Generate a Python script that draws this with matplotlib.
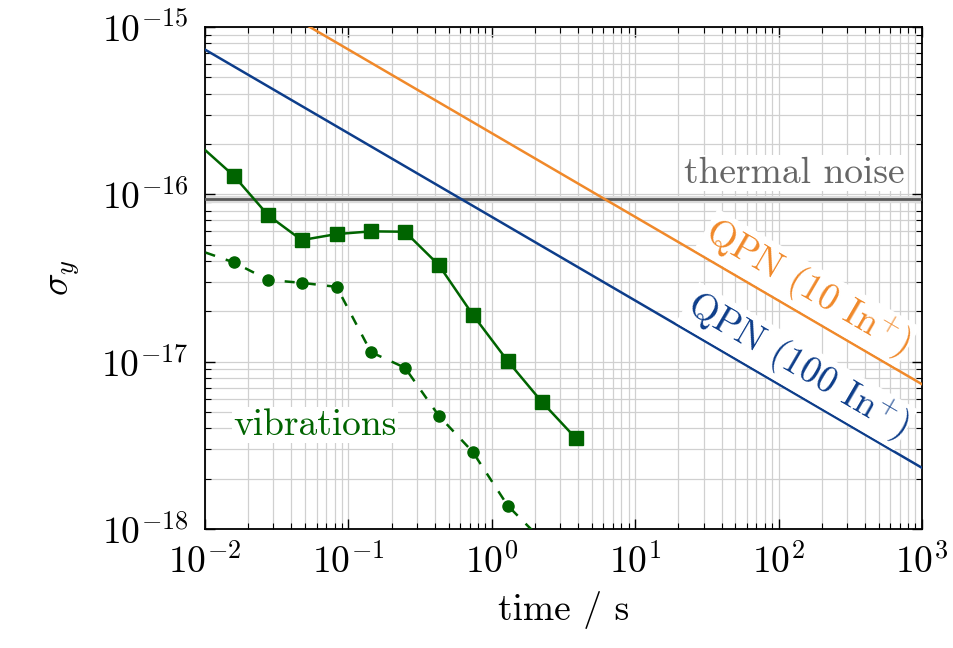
import matplotlib
matplotlib.use("Agg")
import matplotlib.pyplot as plt

plt.rcParams['font.family'] = 'serif'
plt.rcParams['font.serif'] = ['cmr10']
plt.rcParams['mathtext.fontset'] = 'cm'
plt.rcParams['axes.formatter.use_mathtext'] = True

# measured instability (squares) and vibration contribution (circles)
tau_meas = [0.0053, 0.0159, 0.0276, 0.0472, 0.0828, 0.1437, 0.248, 0.427, 0.736, 1.29, 2.23, 3.85]
sigma_meas = [3.0e-16, 1.29e-16, 7.49e-17, 5.33e-17, 5.79e-17, 6.01e-17, 5.98e-17,
              3.78e-17, 1.91e-17, 1.01e-17, 5.76e-18, 3.49e-18]
tau_vib = [0.0053, 0.0159, 0.0276, 0.0472, 0.0828, 0.1437, 0.248, 0.427, 0.736, 1.29, 2.23]
sigma_vib = [5.44e-17, 3.92e-17, 3.08e-17, 2.96e-17, 2.80e-17, 1.14e-17, 9.2e-18,
             4.75e-18, 2.89e-18, 1.38e-18, 8.6e-19]

# straight reference lines (end points)
tau_ref = [1e-2, 1e3]
qpn_10 = [2.32e-15, 7.33e-18]
qpn_100 = [7.33e-16, 2.32e-18]
thermal = [9.35e-17, 9.35e-17]
thermal_lo = [8.85e-17, 8.85e-17]
thermal_hi = [9.8e-17, 9.8e-17]

green = '#006400'
blue = '#0d3d8a'
orange = '#f0892a'
gray = '#5a5a5a'

fig = plt.figure(figsize=(9.54, 6.48), dpi=100)
ax = fig.add_axes([0.2149, 0.1836, 0.7516, 0.7747])

ax.fill_between(tau_ref, thermal_lo, thermal_hi, color='#dcdcdc', lw=0, zorder=2)
ax.plot(tau_ref, thermal, color=gray, lw=2.0, zorder=3)
ax.plot(tau_ref, qpn_10, color=orange, lw=1.8, zorder=3)
ax.plot(tau_ref, qpn_100, color=blue, lw=1.8, zorder=3)
ax.plot(tau_meas, sigma_meas, color=green, lw=1.8, marker='s', ms=9.5, zorder=4)
ax.plot(tau_vib, sigma_vib, color=green, lw=1.8, ls=(0, (4, 4.5)), marker='o', ms=8, zorder=4)

ax.set_xscale('log')
ax.set_yscale('log')
ax.set_xlim(1e-2, 1e3)
ax.set_ylim(1e-18, 1e-15)

ax.grid(True, which='both', color='#d0d0d0', lw=0.9, zorder=0)
ax.set_axisbelow(True)
ax.tick_params(which='both', direction='in', top=True, right=True, labelsize=27)
ax.tick_params(which='major', length=7, width=1.0)
ax.tick_params(which='minor', length=4, width=0.8)
ax.tick_params(axis='y', pad=12)
ax.tick_params(axis='x', pad=10)
for s in ax.spines.values():
    s.set_linewidth(1.3)

ax.set_xlabel('time / s', fontsize=27, labelpad=8)
ax.set_ylabel(r'$\sigma_y$', fontsize=27, labelpad=14)

box = dict(facecolor='white', edgecolor='none', pad=1)
ax.text(760, 1.34e-16, 'thermal noise', color='#666666', fontsize=27,
        ha='right', va='center', bbox=box, zorder=5)
ax.text(158, 2.75e-17, r'QPN (10 In$^{+}$)', color=orange, fontsize=27, rotation=-30.3,
        ha='center', va='center', rotation_mode='anchor', bbox=box, zorder=5)
ax.text(134, 9.4e-18, r'QPN (100 In$^{+}$)', color=blue, fontsize=27, rotation=-30.3,
        ha='center', va='center', rotation_mode='anchor', bbox=box, zorder=5)
ax.text(0.0585, 4.18e-18, 'vibrations', color=green, fontsize=27,
        ha='center', va='center', bbox=box, zorder=5)

fig.savefig('out.png', dpi=100)
